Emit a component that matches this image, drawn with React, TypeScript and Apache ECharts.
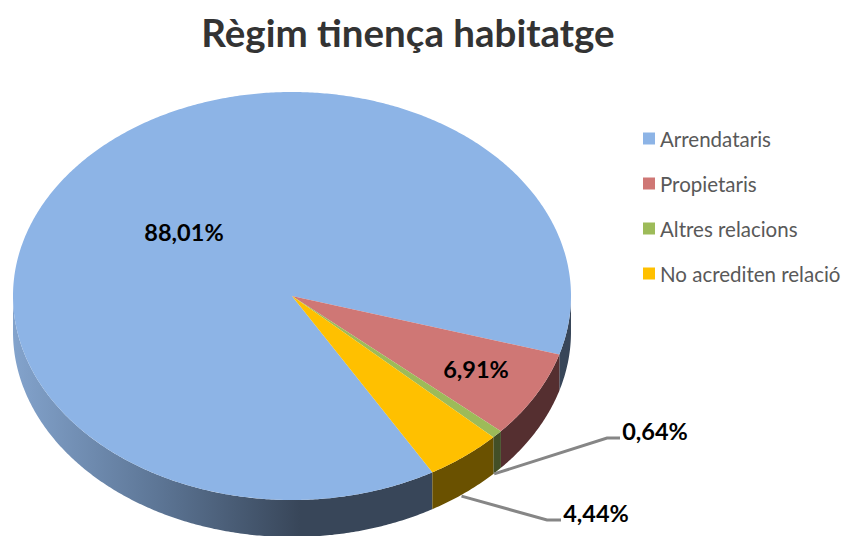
import React, { useEffect, useRef } from "react";
import * as echarts from "echarts";

const categories = ["Arrendataris", "Propietaris", "Altres relacions", "No acrediten relació"];
const values = [88.01, 6.91, 0.64, 4.44];
const valueLabels = ["88,01%", "6,91%", "0,64%", "4,44%"];
const title = "Règim tinença habitatge";

const topColors = ["#8DB4E6", "#CF7775", "#9DBB59", "#FFC000"];
const sideColors: any[] = [
  {
    type: "linear", x: 13, y: 0, x2: 300, y2: 0, global: true,
    colorStops: [
      { offset: 0, color: "#83A3CC" },
      { offset: 0.5, color: "#5D7696" },
      { offset: 1, color: "#384659" },
    ],
  },
  "#552F30",
  "#434F26",
  "#6A5100",
];

// Projection of the tilted pie
const TOP = { cx: 292, cy: 296, rx: 279, ry: 204 };
const BOTTOM = { cx: 292, cy: 332, rx: 279, ry: 205 };
const START_DEG = 59.8;
// Label anchors (centre of text), leader bends
const labelPos: number[][] = [[184, 232], [476, 369], [655, 431], [596, 513]];
const leaderBends: (number[][] | null)[] = [null, null, [[607, 438], [620, 438]], [[547, 520], [561, 520]]];

const total = values.reduce((a, b) => a + b, 0);
const pt = (e: typeof TOP, deg: number) => {
  const r = (deg * Math.PI) / 180;
  return [e.cx + e.rx * Math.cos(r), e.cy + e.ry * Math.sin(r)];
};
const arc = (e: typeof TOP, a: number, b: number) => {
  const n = Math.max(2, Math.ceil(Math.abs(b - a) / 0.5));
  const out: number[][] = [];
  for (let i = 0; i <= n; i++) out.push(pt(e, a + ((b - a) * i) / n));
  return out;
};
const sliceAngles = (idx: number) => {
  let s = START_DEG;
  for (let i = 0; i < idx; i++) s += (values[i] / total) * 360;
  return [s, s + (values[idx] / total) * 360];
};

const makeRender = (idx: number) => () => {
  const [a, b] = sliceAngles(idx);
  const children: any[] = [];
  // visible wall: angles 0..180 (and the same shifted by a turn)
  for (const [lo, hi] of [[0, 180], [360, 540]]) {
    const s = Math.max(a, lo);
    const e = Math.min(b, hi);
    if (e > s) {
      children.push({
        type: "polygon",
        shape: { points: [...arc(TOP, s, e), ...arc(BOTTOM, e, s)] },
        style: { fill: sideColors[idx], stroke: null },
      });
    }
  }
  children.push({
    type: "polygon",
    shape: { points: [[TOP.cx, TOP.cy], ...arc(TOP, a, b)] },
    style: { fill: topColors[idx], stroke: null },
  });
  const bends = leaderBends[idx];
  if (bends) {
    const start = pt(BOTTOM, (a + b) / 2);
    children.push({
      type: "polyline",
      shape: { points: [[start[0] - 3, start[1] + 3], ...bends] },
      style: { stroke: "#868686", lineWidth: 3, fill: null },
    });
  }
  children.push({
    type: "text",
    style: {
      x: labelPos[idx][0], y: labelPos[idx][1], text: valueLabels[idx],
      fill: "#000", font: "bold 23.5px Lato", textAlign: "center", textVerticalAlign: "middle",
    },
  });
  return { type: "group", children };
};

export default function App() {
  const ref = useRef<HTMLDivElement>(null);
  useEffect(() => {
    document.body.style.margin = "0";
    const chart = echarts.init(ref.current!, null, { renderer: "svg" });
    chart.setOption({
      animation: false,
      backgroundColor: "#fff",
      title: {
        text: title, left: 403, top: 7, textAlign: "center",
        textStyle: { fontFamily: "Lato", fontWeight: "bold", fontSize: 38.5, color: "#333" },
      },
      legend: {
        orient: "vertical", left: 643, top: 128, padding: 0, itemWidth: 12, itemHeight: 12, itemGap: 24,
        icon: "rect", data: categories,
        textStyle: { fontFamily: "Lato", fontSize: 20.5, color: "#595959" },
      },
      series: categories.map((name, i) => ({
        type: "custom", name, coordinateSystem: "none",
        data: [values[i]], itemStyle: { color: topColors[i] },
        renderItem: makeRender(i),
      })),
    });
    return () => chart.dispose();
  }, []);
  return <div ref={ref} style={{ width: 841, height: 536 }} />;
}
